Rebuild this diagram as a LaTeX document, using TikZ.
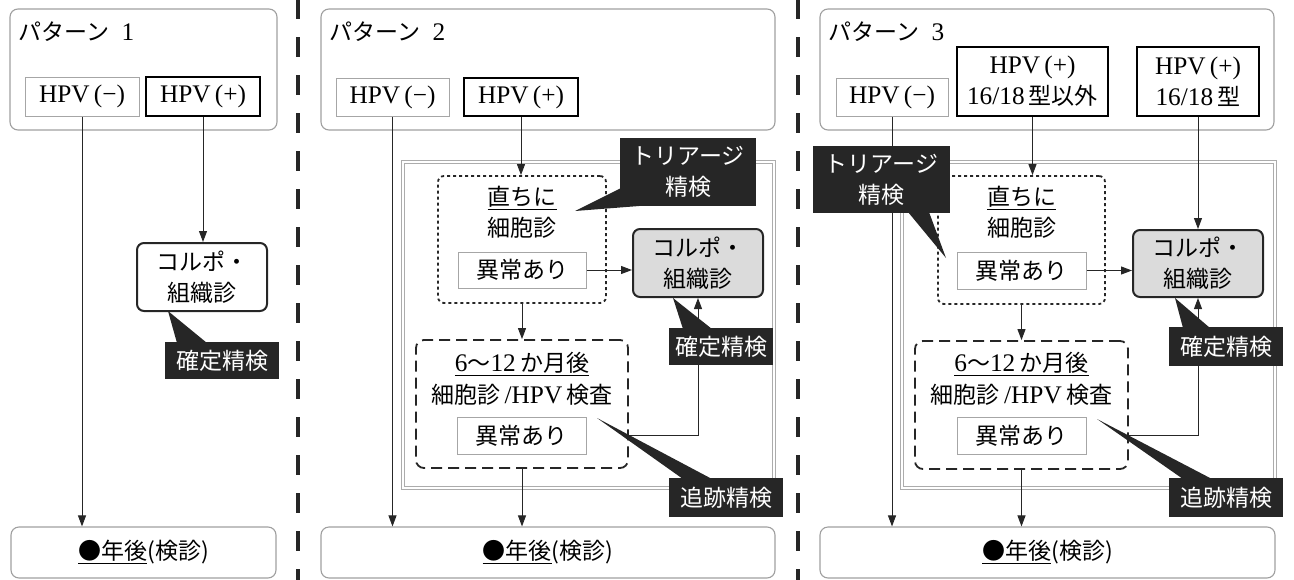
\documentclass[tikz,border=0pt]{standalone}
\usepackage{fontspec}
\setmainfont{Liberation Serif}[Scale=1.1]
\newfontfamily\jp{Noto Sans CJK JP}
\usetikzlibrary{arrows.meta,calc}
\newcommand\fs{\fontsize{23}{31}\selectfont}
\begin{document}
\begin{tikzpicture}[x=1pt,y=-1pt,
  pan/.style={draw=gray!75, line width=1.1pt, rounded corners=8pt, inner sep=0pt, font=\fs},
  ttl/.style={anchor=west, inner sep=0pt, font=\fs},
  thinb/.style={draw=gray!70, line width=1pt, inner sep=0pt, font=\fs, align=center},
  thickb/.style={draw=black, line width=2.2pt, inner sep=0pt, font=\fs, align=center},
  colpo/.style={draw=black!85, line width=2pt, rounded corners=7pt, inner sep=0pt, align=center, font=\fs, fill=white},
  colpos/.style={colpo, fill=gray!28},
  frm/.style={draw=gray!65, line width=1pt, double=white, double distance=2pt, inner sep=0pt},
  dotb/.style={draw=black!85, line width=1.8pt, dash pattern=on 3pt off 3pt, rounded corners=6pt, inner sep=0pt},
  dashb/.style={draw=black!85, line width=1.8pt, dash pattern=on 11pt off 6pt, rounded corners=8pt, inner sep=0pt},
  txt/.style={inner sep=0pt, font=\fs},
  call/.style={fill=black!85, text=white, inner sep=0pt, font=\fs, align=center},
  wedge/.style={fill=black!85},
  arr/.style={draw=black!85, line width=1pt, -{Triangle[length=11pt,width=8pt]}},
  sep/.style={draw=black!85, line width=4pt, dash pattern=on 20pt off 18pt}
]
\useasboundingbox (0,0) rectangle (1294,579);

% separators
\draw[sep] (298,-1) -- (298,580);
\draw[sep] (798,-1) -- (798,580);

% ================= Panel 1 =================
\node[pan, minimum width=267pt, minimum height=121pt] (p1) at (143.5,69.5) {};
\node[ttl] (p1t) at (18,32) {{\jp パターン}\enspace 1};
\node[thinb, minimum width=114pt, minimum height=39pt] (p1n) at (82,96.5) {HPV\,(−)};
\node[thickb, minimum width=114pt, minimum height=39pt] (p1p) at (203,96.5) {HPV\,(+)};
\node[colpo, minimum width=130pt, minimum height=68pt] (p1c) at (202,277) {{\jp コルポ・}\\{\jp 組織診}};
\node[pan, minimum width=265pt, minimum height=51pt] (p1b) at (143.5,552.5) {\jp\underline{●年後}(検診)};
\draw[arr] (p1n.south) -- (p1n.south |- p1b.north);
\draw[arr] (p1p.south) -- (p1p.south |- p1c.north);
\fill[wedge] (177,343) -- (168,311) -- (207,343) -- cycle;
\node[call, minimum width=114pt, minimum height=37pt] (p1k) at (222,360.5) {\jp 確定精検};

% ================= Panel 2 =================
\node[pan, minimum width=454pt, minimum height=121pt] (p2) at (548,69.5) {};
\node[ttl] (p2t) at (329,32) {{\jp パターン}\enspace 2};
\node[thinb, minimum width=113pt, minimum height=38pt] (p2n) at (392.5,97) {HPV\,(−)};
\node[thickb, minimum width=114pt, minimum height=38pt] (p2p) at (521,97) {HPV\,(+)};
\node[frm, minimum width=371pt, minimum height=326pt] (p2f) at (588.5,324.5) {};
\node[pan, minimum width=454pt, minimum height=51pt] (p2b) at (548,552.5) {\jp\underline{●年後}(検診)};
\draw[arr] (p2n.south) -- (p2n.south |- p2b.north);
\node[dotb, minimum width=168pt, minimum height=127pt] (p2dt) at (522,239.5) {};
\node[txt] (p2d1) at (522,198) {\jp\underline{直ちに}};
\node[txt] (p2d2) at (522,228) {\jp 細胞診};
\node[thinb, minimum width=128pt, minimum height=36pt] (p2a1) at (522,270) {\jp 異常あり};
\node[colpos, minimum width=130pt, minimum height=68pt] (p2c) at (698,263) {{\jp コルポ・}\\{\jp 組織診}};
\node[dashb, minimum width=212pt, minimum height=128pt] (p2db) at (522,404) {};
\node[txt] (p2e1) at (522,364) {\underline{6{\jp 〜}12\,{\jp か月後}}};
\node[txt] (p2e2) at (522,395) {{\jp 細胞診}\,/HPV\,{\jp 検査}};
\node[thinb, minimum width=129pt, minimum height=37pt] (p2a2) at (521.5,435.5) {\jp 異常あり};
\draw[arr] (p2p.south) -- (p2p.south |- p2dt.north);
\draw[arr] (p2a1.east) -- (p2a1.east -| p2c.west);
\draw[arr] (p2dt.south) -- (p2dt.south |- p2db.north);
\draw[arr] (p2db.south) -- (p2db.south |- p2b.north);
\draw[arr] (p2db.east |- p2a2) -- (p2c.south |- p2a2) -- (p2c.south);
% callouts
\fill[wedge] (621,188) -- (575,211) -- (652,205) -- cycle;
\node[call, minimum width=136pt, minimum height=68pt] (p2k1) at (688,172) {{\jp トリアージ}\\{\jp 精検}};
\fill[wedge] (683,329) -- (673,298) -- (712,329) -- cycle;
\node[call, minimum width=104pt, minimum height=37pt] (p2k2) at (721,346.5) {\jp 確定精検};
\fill[wedge] (683,479) -- (597,418) -- (712,479) -- cycle;
\node[call, minimum width=114pt, minimum height=39pt] (p2k3) at (726,497.5) {\jp 追跡精検};

% ================= Panel 3 =================
\node[pan, minimum width=454pt, minimum height=121pt] (p3) at (1047,69.5) {};
\node[ttl] (p3t) at (828,32) {{\jp パターン}\enspace 3};
\node[thinb, minimum width=112pt, minimum height=38pt] (p3n) at (892,97) {HPV\,(−)};
\node[thickb, minimum width=151pt, minimum height=69pt] (p3p1) at (1032.5,81.5) {HPV\,(+)\\16/18\,{\jp 型以外}};
\node[thickb, minimum width=122pt, minimum height=69pt] (p3p2) at (1198,81.5) {HPV\,(+)\\16/18\,{\jp 型}};
\node[frm, minimum width=373pt, minimum height=326pt] (p3f) at (1088,324.5) {};
\node[pan, minimum width=455pt, minimum height=51pt] (p3b) at (1047.5,552.5) {\jp\underline{●年後}(検診)};
\draw[arr] (p3n.south) -- (p3n.south |- p3b.north);
\node[dotb, minimum width=167pt, minimum height=128pt] (p3dt) at (1021.5,240) {};
\node[txt] (p3d1) at (1021.5,198) {\jp\underline{直ちに}};
\node[txt] (p3d2) at (1021.5,228) {\jp 細胞診};
\node[thinb, minimum width=129pt, minimum height=37pt] (p3a1) at (1021.5,270.5) {\jp 異常あり};
\node[colpos, minimum width=130pt, minimum height=67pt] (p3c) at (1198,263.5) {{\jp コルポ・}\\{\jp 組織診}};
\node[dashb, minimum width=213pt, minimum height=128pt] (p3db) at (1021.5,405) {};
\node[txt] (p3e1) at (1021.5,364) {\underline{6{\jp 〜}12\,{\jp か月後}}};
\node[txt] (p3e2) at (1021.5,395) {{\jp 細胞診}\,/HPV\,{\jp 検査}};
\node[thinb, minimum width=129pt, minimum height=37pt] (p3a2) at (1021.5,435.5) {\jp 異常あり};
\draw[arr] (p3p1.south) -- (p3p1.south |- p3dt.north);
\draw[arr] (p3p2.south) -- (p3p2.south |- p3c.north);
\draw[arr] (p3a1.east) -- (p3a1.east -| p3c.west);
\draw[arr] (p3dt.south) -- (p3dt.south |- p3db.north);
\draw[arr] (p3db.south) -- (p3db.south |- p3b.north);
\draw[arr] (p3db.east |- p3a2) -- (p3c.south |- p3a2) -- (p3c.south);
% callouts
\fill[wedge] (908,212) -- (946,258) -- (929,212) -- cycle;
\node[call, minimum width=137pt, minimum height=67pt] (p3k1) at (881.5,179.5) {{\jp トリアージ}\\{\jp 精検}};
\fill[wedge] (1183,328) -- (1175,298) -- (1210,328) -- cycle;
\node[call, minimum width=114pt, minimum height=39pt] (p3k2) at (1226,346.5) {\jp 確定精検};
\fill[wedge] (1183,479) -- (1097,419) -- (1212,479) -- cycle;
\node[call, minimum width=114pt, minimum height=39pt] (p3k3) at (1226,497.5) {\jp 追跡精検};
\end{tikzpicture}
\end{document}
